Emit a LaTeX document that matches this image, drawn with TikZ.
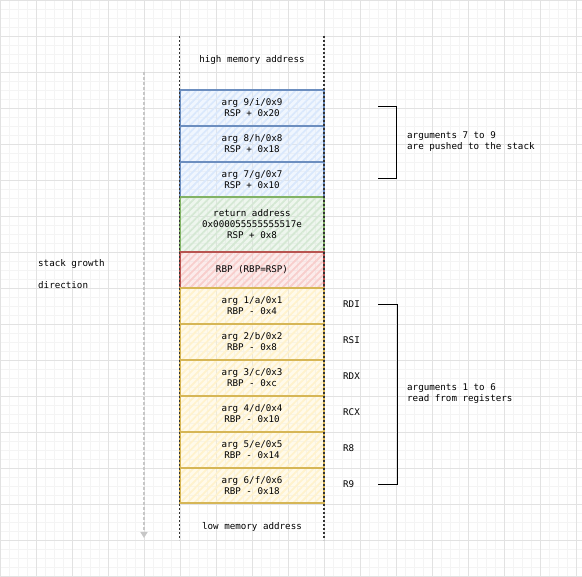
\documentclass[tikz,border=0pt]{standalone}
\usepackage{fontspec}
\setmonofont{DejaVu Sans Mono}
\usetikzlibrary{patterns.meta,arrows.meta}
\definecolor{blueF}{HTML}{DAE8FC}\definecolor{blueD}{HTML}{6C8EBF}
\definecolor{greenF}{HTML}{D5E8D4}\definecolor{greenD}{HTML}{82B366}
\definecolor{redF}{HTML}{F8CECC}\definecolor{redD}{HTML}{B85450}
\definecolor{yelF}{HTML}{FFF2CC}\definecolor{yelD}{HTML}{D6B656}
\definecolor{gridmajor}{HTML}{E2E2E2}\definecolor{gridminor}{HTML}{F4F4F4}
\begin{document}
\begin{tikzpicture}[x=1pt,y=-1pt,
  every node/.style={font=\ttfamily\fontsize{9.2}{11}\selectfont, text=black, inner sep=0pt},
  slot/.style={minimum width=144pt, align=center, line width=1.2pt},
  slotfill/.style args={#1/#2}{slot, draw=#2,
     preaction={fill=#1, fill opacity=0.4},
     pattern={Lines[angle=45,distance=5pt,line width=1.8pt]}, pattern color=#1},
  bluebox/.style={slotfill=blueF/blueD},
  greenbox/.style={slotfill=greenF/greenD},
  redbox/.style={slotfill=redF/redD},
  yelbox/.style={slotfill=yelF/yelD, line width=1.6pt},
  edge/.style={draw=black!80, line width=1.4pt, dash pattern=on 2pt off 2pt},
  bracket/.style={draw=black, line width=1pt},
  note/.style={anchor=west, align=left},
  reg/.style={anchor=west}]
\useasboundingbox (0,0) rectangle (582,577);
% background grid
\draw[gridminor, line width=0.6pt, step=9pt] (0,0) grid (582,577);
\draw[gridmajor, line width=0.8pt, step=36pt] (0,0) grid (582,577);

% stack slots, high addresses at the top
\node[bluebox, minimum height=36pt] (a9) at (252,108) {arg 9/i/0x9\\RSP + 0x20};
\node[bluebox, minimum height=36pt] (a8) at (252,144) {arg 8/h/0x8\\RSP + 0x18};
\node[bluebox, minimum height=35pt] (a7) at (252,179.5) {arg 7/g/0x7\\RSP + 0x10};
\node[greenbox, minimum height=55pt] (ret) at (252,224.5) {return address\\0x000055555555517e\\RSP + 0x8};
\node[redbox, minimum height=36pt] (rbp) at (252,270) {RBP (RBP=RSP)};
\node[yelbox, minimum height=36pt] (a1) at (252,306) {arg 1/a/0x1\\RBP - 0x4};
\node[yelbox, minimum height=36pt] (a2) at (252,342) {arg 2/b/0x2\\RBP - 0x8};
\node[yelbox, minimum height=36pt] (a3) at (252,378) {arg 3/c/0x3\\RBP - 0xc};
\node[yelbox, minimum height=36pt] (a4) at (252,414) {arg 4/d/0x4\\RBP - 0x10};
\node[yelbox, minimum height=36pt] (a5) at (252,450) {arg 5/e/0x5\\RBP - 0x14};
\node[yelbox, minimum height=35pt] (a6) at (252,485.5) {arg 6/f/0x6\\RBP - 0x18};

% stack frame edges
\coordinate (lt) at (179.5,36); \coordinate (lb) at (179.5,540);
\coordinate (rt) at (324,36);   \coordinate (rb) at (324,540);
\draw[edge] (lt) -- (lb);
\draw[edge] (rt) -- (rb);

\node (hi) at (252,60) {high memory address};
\node (lo) at (252,527) {low memory address};

% growth direction
\coordinate (gt) at (144,72); \coordinate (gb) at (144,538);
\draw[draw=black!22, line width=1.5pt, dash pattern=on 3pt off 2pt,
      -{Triangle[width=7pt,length=6pt,fill=black!22]}] (gt) -- (gb);
\node[note] (grow1) at (38,264) {stack growth};
\node[note] (grow2) at (38,285) {direction};

% register names
\node[reg] (rdi) at (343,304) {RDI};
\node[reg] (rsi) at (343,340) {RSI};
\node[reg] (rdx) at (343,376) {RDX};
\node[reg] (rcx) at (343,412) {RCX};
\node[reg] (r8)  at (343,448) {R8};
\node[reg] (r9)  at (343,484) {R9};

% brackets
\coordinate (b1a) at (378,107); \coordinate (b1b) at (396,107);
\coordinate (b1c) at (396,179); \coordinate (b1d) at (378,179);
\draw[bracket] (b1a) -- (b1b) -- (b1c) -- (b1d);
\node[note] (n1) at (407,142) {arguments 7 to 9\\are pushed to the stack};

\coordinate (b2a) at (378,305); \coordinate (b2b) at (397,305);
\coordinate (b2c) at (397,485); \coordinate (b2d) at (378,485);
\draw[bracket] (b2a) -- (b2b) -- (b2c) -- (b2d);
\node[note] (n2) at (407,394) {arguments 1 to 6\\read from registers};
\end{tikzpicture}
\end{document}
